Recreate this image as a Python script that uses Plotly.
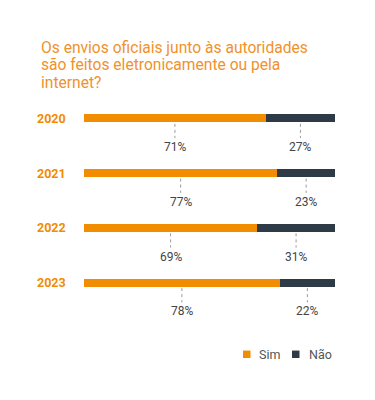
import plotly.graph_objects as go

years = ["2020", "2021", "2022", "2023"]
sim = [71, 77, 69, 78]
nao = [27, 23, 31, 22]
series_names = ["Sim", "Não"]
title_lines = ["Os envios oficiais junto às autoridades",
               "são feitos eletronicamente ou pela",
               "internet?"]

ORANGE = "#F28C00"
DARK = "#2E3A46"
FONT = "Roboto"
COLORS = [ORANGE, DARK]

ypos = list(range(len(years)))

# plot area in pixels: x 84..335, y 90.5..310.5
PL, PR, PT, PB = 84, 335, 90.5, 310.5
UNIT = (PB - PT) / len(years)
def px_x(p):
    return (p - PL) / (PR - PL)
def px_y(p):
    return (PB - p) / (PB - PT)

fig = go.Figure()
for name, vals, col in zip(series_names, [sim, nao], COLORS):
    fig.add_trace(go.Bar(y=ypos, x=vals, name=name, orientation="h",
                         marker=dict(color=col, line=dict(width=0)), width=0.15,
                         hoverinfo="skip", showlegend=False))

annotations = []
shapes = []
for i, (y, s, n) in enumerate(zip(years, sim, nao)):
    tot = s + n
    s_n = s / tot * 100
    n_n = n / tot * 100
    row_px = PT + UNIT * (i + 0.5)
    for cx, val in [(s_n / 2, s), (s_n + n_n / 2, n)]:
        shapes.append(dict(type="line", xref="x", yref="y", x0=cx, x1=cx,
                           y0=i + 0.10, y1=i + 0.36,
                           line=dict(color="#9a9a9a", width=1, dash="dot")))
        annotations.append(dict(x=cx, y=px_y(row_px + 29), xref="x", yref="paper",
                                text=f"{val}%", showarrow=False,
                                font=dict(family=FONT, size=12, color="#444444"),
                                xanchor="center", yanchor="middle"))
    annotations.append(dict(x=px_x(68), y=i, xref="paper", yref="y",
                            text=f"<b>{y}</b>", showarrow=False,
                            font=dict(family=FONT, size=12.5, color=ORANGE),
                            xanchor="right", yanchor="middle"))

for k, line in enumerate(title_lines):
    annotations.append(dict(x=px_x(39), y=px_y(47 + 17.5 * k),
                            xref="paper", yref="paper", text=line,
                            showarrow=False, xanchor="left", yanchor="middle",
                            font=dict(family=FONT, size=15.6, color="#F0922B")))

# legend (square swatch + label)
LEG_Y = 355
for name, col, sx, tx in zip(series_names, COLORS, [243, 292], [257, 307]):
    shapes.append(dict(type="rect", xref="paper", yref="paper",
                       x0=px_x(sx), x1=px_x(sx + 7.5),
                       y0=px_y(LEG_Y + 3.75), y1=px_y(LEG_Y - 3.75),
                       fillcolor=col, line=dict(width=0)))
    annotations.append(dict(x=px_x(tx), y=px_y(LEG_Y), xref="paper", yref="paper",
                            text=name, showarrow=False, xanchor="left",
                            yanchor="middle",
                            font=dict(family=FONT, size=12.5, color="#555555")))

fig.update_layout(
    width=375, height=400,
    margin=dict(l=84, r=40, t=90.5, b=89.5, autoexpand=False),
    paper_bgcolor="white", plot_bgcolor="white",
    barmode="stack", barnorm="percent",
    xaxis=dict(range=[0, 100], visible=False, fixedrange=True),
    yaxis=dict(range=[3.5, -0.5], visible=False, fixedrange=True),
    showlegend=False,
    annotations=annotations,
    shapes=shapes,
    font=dict(family=FONT),
)

fig.write_html("out.html", config={"displayModeBar": False},
               post_script="document.body.style.margin='0';")
